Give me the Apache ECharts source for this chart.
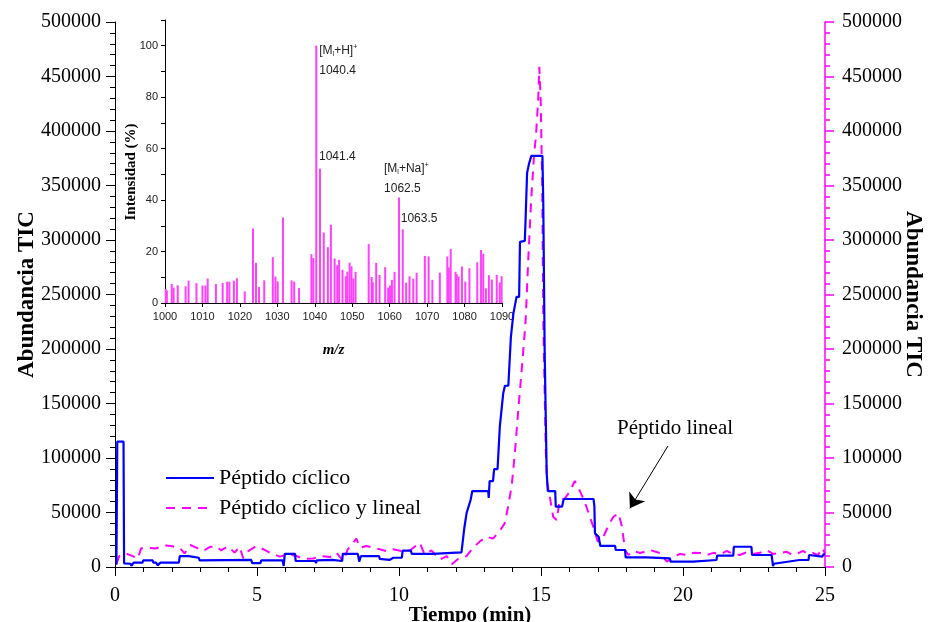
<!DOCTYPE html>
<html>
<head>
<meta charset="utf-8">
<title>Abundancia TIC</title>
<script src="https://cdn.jsdelivr.net/npm/echarts@6/dist/echarts.min.js"></script>
<style>
  html, body { margin: 0; padding: 0; background: #fff; }
  #chart { width: 928px; height: 622px; }
</style>
</head>
<body>
<div id="chart"></div>
<script>
// Cromatograma TIC: péptido cíclico (línea continua) frente a la mezcla cíclico + lineal (línea discontinua)
const tiempoCiclico = [
  0.05, 0.07, 0.08, 0.3, 0.32, 0.55, 0.58, 0.66, 0.97, 0.99, 1.33, 1.35, 1.45, 1.5, 1.6, 2.25, 2.28, 2.6, 2.62, 2.95,
  2.98, 4.8, 4.83, 5.12, 5.15, 5.9, 5.94, 5.98, 6.34, 6.36, 7.05, 7.08, 7.1, 7.65, 7.7, 8.0, 8.02, 8.55, 8.6, 8.66,
  9.3, 9.32, 9.66, 9.8, 10.1, 10.13, 10.42, 10.45, 11.18, 11.2, 12.2, 12.3, 12.38, 12.52, 12.58, 13.14, 13.16, 13.19, 13.31, 13.35,
  13.47, 13.55, 13.67, 13.73, 13.85, 13.94, 14.03, 14.14, 14.23, 14.26, 14.43, 14.46, 14.51, 14.58, 14.66, 15.05, 15.08, 15.13, 15.2, 15.24,
  15.5, 15.52, 15.74, 15.8, 16.85, 16.88, 16.9, 17.03, 17.09, 17.61, 17.63, 17.96, 17.98, 18.72, 18.74, 19.54, 19.56, 20.36, 20.38, 21.18,
  21.2, 21.77, 21.79, 22.41, 22.43, 23.12, 23.17, 23.2, 24.1, 24.42, 24.44, 24.9, 24.95, 25.0
];
const abundanciaCiclico = [
  2000, 3000, 115000, 115000, 3400, 3000, 1000, 4000, 4000, 6000, 6000, 4000, 4000, 1500, 4000, 4000, 10000, 10000, 8500, 8500,
  6000, 6500, 3500, 3500, 6000, 6000, 1000, 12000, 12000, 5500, 5500, 3500, 6000, 6500, 5500, 5500, 12000, 12000, 5000, 10000,
  10000, 7500, 6500, 8500, 8500, 15000, 15000, 12000, 12000, 13500, 13500, 35800, 49500, 61400, 69700, 69700, 63400, 78800, 78800, 89800,
  89800, 128700, 159500, 166300, 166300, 211200, 232900, 247900, 247900, 298300, 299200, 321300, 361600, 370200, 377200, 377200, 333800, 196200, 86200, 69700,
  69700, 55300, 55300, 62400, 62400, 55300, 30900, 27800, 19300, 19300, 15600, 15600, 8900, 8900, 8000, 8000, 4900, 4900, 6400, 6400,
  10400, 10400, 18600, 18600, 11000, 11000, 900, 3000, 6400, 6400, 11000, 9500, 11500, 11500
];

const tiempoMezcla = [
  0.05, 0.15, 0.39, 0.62, 0.8, 0.92, 1.2, 1.45, 1.68, 1.98, 2.27, 2.45, 2.65, 2.86, 3.1, 3.33, 3.57, 3.74, 3.98, 4.21,
  4.39, 4.51, 4.69, 4.98, 5.22, 5.45, 5.8, 6.1, 6.4, 6.63, 6.98, 7.27, 7.57, 7.8, 8.03, 8.2, 8.5, 8.62, 8.85, 9.09,
  9.32, 9.56, 9.79, 10.08, 10.38, 10.73, 10.9, 11.14, 11.44, 11.68, 11.86, 12.09, 12.38, 12.61, 12.85, 13.08, 13.31, 13.55, 13.72, 13.84,
  13.97, 14.08, 14.2, 14.35, 14.46, 14.55, 14.66, 14.76, 14.82, 14.9, 14.94, 14.99, 15.02, 15.04, 15.08, 15.17, 15.22, 15.31, 15.43, 15.55,
  15.66, 15.84, 16.01, 16.19, 16.3, 16.46, 16.6, 16.72, 16.86, 17.0, 17.2, 17.38, 17.55, 17.73, 17.85, 17.96, 18.08, 18.25, 18.49, 18.84,
  19.19, 19.43, 19.66, 19.9, 20.13, 20.36, 20.6, 20.84, 21.07, 21.3, 21.54, 21.77, 22.0, 22.24, 22.47, 22.7, 22.94, 23.17, 23.4, 23.64,
  23.87, 24.05, 24.22, 24.4, 24.57, 24.75, 24.92, 25.0
];
const abundanciaMezcla = [
  3000, 10000, 12500, 10000, 7600, 17100, 17500, 17000, 19800, 19200, 17700, 12500, 20200, 17800, 14600, 18300, 19000, 15200, 19000, 13200,
  18600, 8200, 14600, 19200, 16300, 13200, 9500, 11600, 10000, 7600, 7800, 10000, 9100, 13200, 5500, 16300, 26000, 17700, 19200, 17700,
  16300, 14600, 16300, 14600, 15200, 22300, 11600, 15200, 6700, 10000, 2500, 7600, 10000, 17700, 23500, 27800, 26000, 33000, 40000, 55000,
  75000, 104500, 144000, 189800, 226500, 281500, 339600, 379400, 394600, 428000, 458800, 428000, 382000, 358000, 226500, 104500, 77000, 64500, 46100, 43100,
  61400, 63000, 69000, 78900, 73600, 64500, 55300, 46100, 35500, 23200, 27800, 38500, 46100, 49200, 37000, 15600, 11000, 14700, 12800, 15600,
  12800, 4900, 9500, 12000, 11000, 13000, 12800, 11000, 13000, 11500, 14700, 12000, 11000, 13500, 12000, 13000, 15600, 12000, 12800, 14000,
  11000, 12500, 14700, 12000, 12800, 11000, 17400, 12000
];

// Espectro de masas (recuadro)
const masaCarga = [
  1000.2, 1000.5, 1001.8, 1002.3, 1003.4, 1005.5, 1006.3, 1008.4, 1010.0, 1010.8, 1011.4, 1013.6, 1015.4, 1016.6, 1017.2, 1018.4, 1019.2, 1021.3,
  1023.5, 1024.3, 1025.1, 1026.5, 1028.8, 1029.5, 1030.1, 1031.5, 1033.8, 1034.5, 1035.8, 1039.1, 1039.6, 1040.4, 1041.4, 1042.4, 1043.5, 1044.3,
  1045.3, 1046.0, 1046.5, 1047.4, 1048.3, 1048.7, 1049.3, 1049.8, 1050.3, 1050.9, 1054.4, 1055.2, 1055.5, 1056.4, 1057.3, 1058.8, 1059.6, 1060.1,
  1060.6, 1061.3, 1062.5, 1063.5, 1064.4, 1065.3, 1066.3, 1067.2, 1069.4, 1070.4, 1071.4, 1073.4, 1075.4, 1075.8, 1076.3, 1077.6, 1077.9, 1078.4,
  1079.3, 1080.2, 1081.3, 1083.4, 1084.4, 1085.0, 1085.7, 1086.5, 1087.3, 1088.6, 1089.4, 1089.9
];
const intensidad = [
  5.5, 4.8, 7.4, 6.0, 6.9, 6.5, 8.7, 7.7, 6.8, 6.8, 9.5, 7.4, 7.8, 8.3, 8.3, 8.7, 9.6, 4.5,
  29.0, 15.6, 6.2, 8.8, 17.8, 10.3, 8.4, 33.2, 8.8, 8.3, 5.8, 19.0, 17.5, 100, 52.2, 27.4, 21.7, 30.4,
  17.3, 14.7, 16.8, 12.9, 10.4, 12.2, 15.7, 14.3, 9.5, 12.1, 22.9, 10.1, 8.0, 15.6, 10.9, 13.9, 6.0, 6.8,
  9.0, 12.1, 41.0, 28.6, 7.9, 10.4, 9.4, 11.7, 18.3, 18.1, 9.0, 11.8, 18.1, 13.8, 21.0, 12.1, 11.2, 10.3,
  14.2, 8.3, 13.5, 15.8, 20.6, 19.2, 5.7, 10.8, 9.1, 10.9, 8.0, 10.4
];
// Iones asignados y picos rotulados
const picosRotulados = [1040.4, 1041.4, 1062.5, 1063.5];
const ionesAsignados = { 1040.4: 'H', 1062.5: 'Na' };

const nombresSerie = ['Péptido cíclico', 'Péptido cíclico y lineal'];
const textoAnotacion = 'Péptido lineal';

const serif = "'Liberation Serif', 'Times New Roman', serif";
const sans = "'Liberation Sans', Arial, sans-serif";

// desplazamiento de cada rótulo respecto al extremo de su barra
const desplazamientoRotulo = {
  1040.4: [4, -2],
  1041.4: [0, -19],
  1062.5: [-14, -36],
  1063.5: [-1, -18]
};

const rich = {
  t: { fontFamily: sans, fontSize: 12, color: '#222', lineHeight: 14 },
  s: { fontFamily: sans, fontSize: 7, color: '#222', lineHeight: 7, verticalAlign: 'bottom' },
  p: { fontFamily: sans, fontSize: 7, color: '#222', lineHeight: 7, verticalAlign: 'top' },
  m: { fontFamily: sans, fontSize: 12, color: '#222', lineHeight: 26 }
};

const espectro = masaCarga.map((mz, i) => {
  const item = { value: [mz, intensidad[i]] };
  if (picosRotulados.includes(mz)) {
    const ion = ionesAsignados[mz];
    item.label = {
      show: true,
      position: desplazamientoRotulo[mz],
      rich: rich,
      formatter: (p) => {
        const masa = p.value[0].toFixed(1);
        return ion ? '{t|[M}{s|l}{t|+' + ion + ']}{p|+}\n{m|' + masa + '}' : '{t|' + masa + '}';
      }
    };
  }
  return item;
});

const numeroSimple = (v) => String(v);

const chart = echarts.init(document.getElementById('chart'), null, { renderer: 'canvas' });

const option = {
  backgroundColor: '#ffffff',
  animation: false,
  grid: [
    { left: 115, top: 22, width: 710, height: 545, outerBoundsMode: 'none', containLabel: false },
    { left: 165, top: 20, width: 337, height: 283, outerBoundsMode: 'none', containLabel: false }
  ],
  legend: {
    data: nombresSerie,
    orient: 'vertical',
    left: 160,
    top: 462,
    itemWidth: 48,
    itemHeight: 14,
    itemGap: 8,
    itemStyle: { opacity: 0 },
    textStyle: { fontFamily: serif, fontSize: 22, color: '#000' }
  },
  xAxis: [
    {
      gridIndex: 0, type: 'value', min: 0, max: 25, interval: 5,
      name: 'Tiempo (min)', nameLocation: 'middle', nameGap: 38, nameMoveOverlap: false,
      nameTextStyle: { fontFamily: serif, fontSize: 21, fontWeight: 'bold', color: '#000' },
      axisLine: { show: true, onZero: false, lineStyle: { color: '#000', width: 1 } },
      axisTick: { show: true, inside: false, length: 9, lineStyle: { color: '#000' } },
      minorTick: { show: true, splitNumber: 5, length: 5, lineStyle: { color: '#000' } },
      splitLine: { show: false },
      axisLabel: { fontFamily: serif, fontSize: 20, color: '#000', margin: 19, formatter: numeroSimple }
    },
    {
      gridIndex: 1, type: 'value', min: 1000, max: 1090, interval: 10,
      name: 'm/z', nameLocation: 'middle', nameGap: 40, nameMoveOverlap: false,
      nameTextStyle: { fontFamily: serif, fontSize: 15, fontWeight: 'bold', fontStyle: 'italic', color: '#000' },
      axisLine: { show: true, onZero: false, lineStyle: { color: '#000', width: 1 } },
      axisTick: { show: true, inside: false, length: 4, lineStyle: { color: '#000' } },
      splitLine: { show: false },
      axisLabel: { fontFamily: sans, fontSize: 11, color: '#222', margin: 8, formatter: numeroSimple }
    }
  ],
  yAxis: [
    {
      gridIndex: 0, type: 'value', min: 0, max: 500000, interval: 50000, position: 'left',
      name: 'Abundancia TIC', nameLocation: 'middle', nameGap: 76, nameMoveOverlap: false,
      nameTextStyle: { fontFamily: serif, fontSize: 23, fontWeight: 'bold', color: '#000' },
      axisLine: { show: true, lineStyle: { color: '#000', width: 1 } },
      axisTick: { show: true, inside: false, length: 9, lineStyle: { color: '#000' } },
      minorTick: { show: true, splitNumber: 5, length: 5, lineStyle: { color: '#000' } },
      splitLine: { show: false },
      axisLabel: { fontFamily: serif, fontSize: 20, color: '#000', margin: 14, formatter: numeroSimple }
    },
    {
      gridIndex: 0, type: 'value', min: 0, max: 500000, interval: 50000, position: 'right',
      name: 'Abundancia TIC', nameLocation: 'middle', nameGap: 76, nameRotate: -90, nameMoveOverlap: false,
      nameTextStyle: { fontFamily: serif, fontSize: 23, fontWeight: 'bold', color: '#000' },
      axisLine: { show: true, lineStyle: { color: '#ff00ff', width: 1.5 } },
      axisTick: { show: true, inside: false, length: 9, lineStyle: { color: '#ff00ff', width: 1.5 } },
      minorTick: { show: true, splitNumber: 5, length: 5, lineStyle: { color: '#ff00ff', width: 1.5 } },
      splitLine: { show: false },
      axisLabel: { fontFamily: serif, fontSize: 20, color: '#000', margin: 17, formatter: numeroSimple }
    },
    {
      gridIndex: 1, type: 'value', min: 0, max: 110, interval: 20,
      axisLine: { show: true, lineStyle: { color: '#000', width: 1 } },
      axisTick: { show: true, inside: false, length: 4, lineStyle: { color: '#000' } },
      minorTick: { show: true, splitNumber: 2, length: 4, lineStyle: { color: '#000' } },
      splitLine: { show: false },
      axisLabel: {
        fontFamily: sans, fontSize: 11, color: '#222', margin: 7,
        formatter: (v) => (v % 20 === 0 && v <= 100 ? String(v) : '')
      }
    }
  ],
  graphic: [
    {
      type: 'text', x: 131, y: 172, rotation: Math.PI / 2,
      style: { text: 'Intensidad (%)', font: 'bold 15px ' + serif, fill: '#000', align: 'center', verticalAlign: 'middle' }
    }
  ],
  series: [
    {
      name: nombresSerie[0], type: 'line', xAxisIndex: 0, yAxisIndex: 0,
      data: tiempoCiclico.map((t, i) => [t, abundanciaCiclico[i]]),
      symbol: 'none', showSymbol: false,
      lineStyle: { color: '#0000ff', width: 2.2 },
      itemStyle: { color: '#0000ff' },
      z: 3
    },
    {
      name: nombresSerie[1], type: 'line', xAxisIndex: 0, yAxisIndex: 1,
      data: tiempoMezcla.map((t, i) => [t, abundanciaMezcla[i]]),
      symbol: 'none', showSymbol: false,
      lineStyle: { color: '#ff00ff', width: 2, type: [9, 7] },
      itemStyle: { color: '#ff00ff' },
      z: 2,
      markLine: {
        silent: true,
        symbol: ['none', 'arrow'],
        symbolSize: 14,
        label: { show: false },
        lineStyle: { color: '#000', width: 1, type: 'solid' },
        itemStyle: { color: '#000' },
        data: [[{ coord: [19.47, 111000] }, { coord: [18.13, 53800] }]]
      },
      markPoint: {
        silent: true,
        symbol: 'circle',
        symbolSize: 0,
        label: {
          show: true, position: 'inside', formatter: textoAnotacion,
          fontFamily: serif, fontSize: 21, color: '#000'
        },
        data: [{ coord: [19.72, 127500] }]
      }
    },
    {
      name: 'Espectro', type: 'bar', xAxisIndex: 1, yAxisIndex: 2,
      data: espectro,
      barWidth: 2,
      itemStyle: { color: '#ff40ff' },
      z: 4
    }
  ]
};

chart.setOption(option);
</script>
</body>
</html>
